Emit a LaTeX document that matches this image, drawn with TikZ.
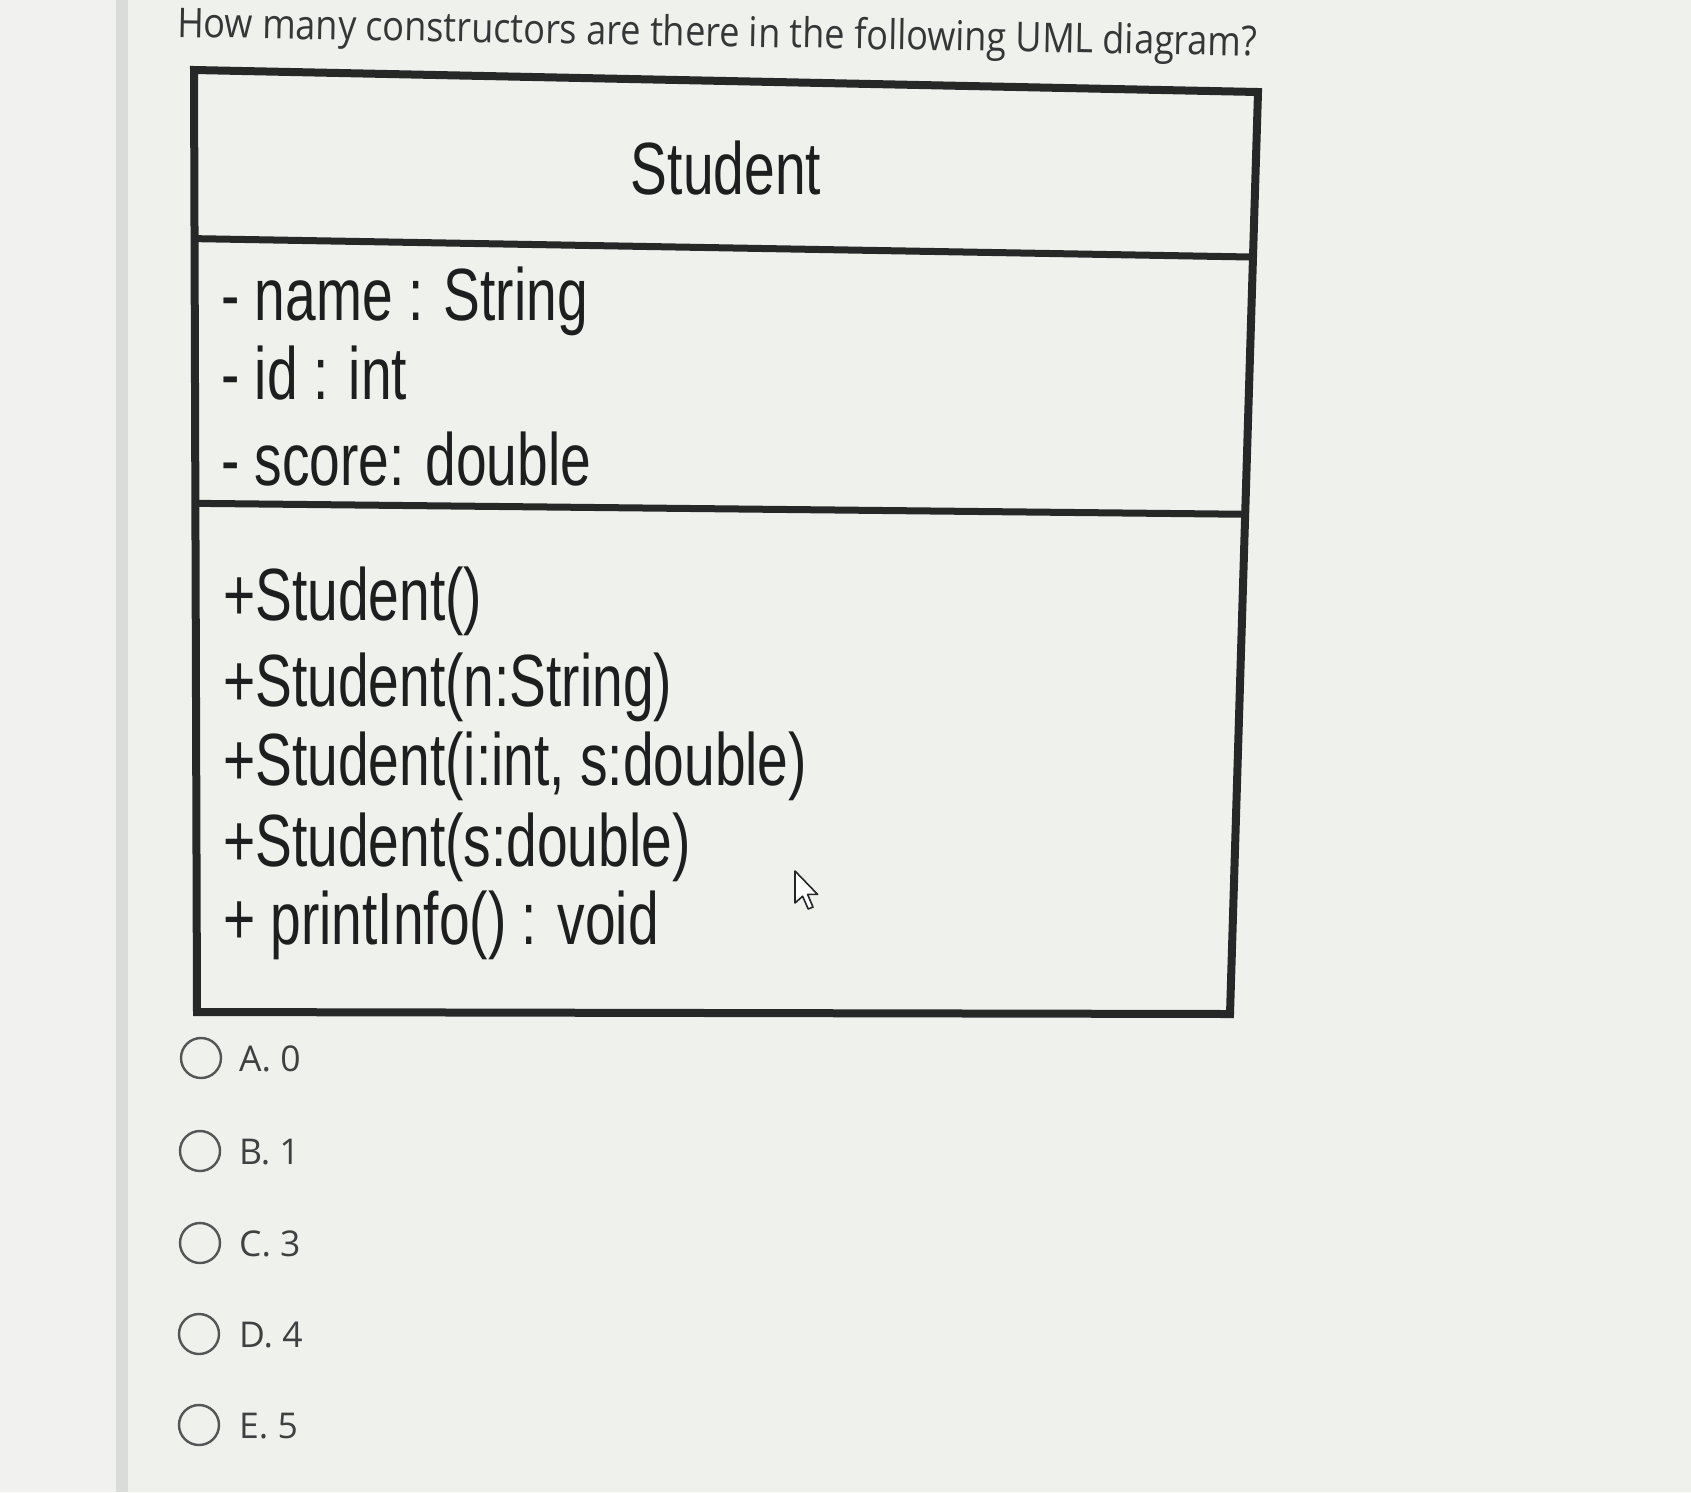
\documentclass[tikz,border=0pt]{standalone}
\usepackage{fontspec}
\usetikzlibrary{calc}
\newfontfamily\umlfont[FakeStretch=0.745]{Liberation Sans}
\newfontfamily\titlefont[FakeStretch=0.88]{Open Sans}
\newfontfamily\optfont{Open Sans}
\definecolor{bg}{HTML}{EEF1EC}
\definecolor{leftbg}{HTML}{F1F1EF}
\definecolor{stripc}{HTML}{D9DCD8}
\definecolor{umlink}{HTML}{1E1E1E}
\definecolor{boxc}{HTML}{262828}
\definecolor{titleink}{HTML}{363636}
\definecolor{optink}{HTML}{404040}
\definecolor{optgray}{HTML}{555555}
\begin{document}
\begin{tikzpicture}[x=1pt,y=-1pt,
  umltext/.style={anchor=base west, inner sep=0, text=umlink,
    font=\umlfont\fontsize{74}{74}\selectfont},
  radiobtn/.style={draw=optgray, line width=2.4pt, circle, minimum size=40pt, inner sep=0},
  optlabel/.style={anchor=base west, inner sep=0, text=optink,
    font=\optfont\fontsize{35.5}{35.5}\selectfont},
  boxline/.style={draw=boxc, line width=8pt, line join=miter},
  divline/.style={draw=boxc, line width=7pt}
]
% background
\fill[bg] (0,0) rectangle (1691,1492);
\fill[leftbg] (0,0) rectangle (116,1492);
\fill[stripc] (116,0) rectangle (128,1492);
\useasboundingbox (0,0) rectangle (1691,1492);

% title
\node[anchor=base west, inner sep=0, text=titleink, rotate=-1,
  font=\titlefont\fontsize{41}{41}\selectfont] (title) at (177,37)
  {How many constructors are there in the following UML diagram?};

% UML class box
\coordinate (tl) at (194,70);
\coordinate (tr) at (1258,92);
\coordinate (br) at (1230,1014);
\coordinate (bl) at (197,1012);
\draw[boxline] (tl) -- (tr) -- (br) -- (bl) -- cycle;
\coordinate (d1l) at ($(tl)!0.179!(bl)$);
\coordinate (d1r) at ($(tr)!0.179!(br)$);
\coordinate (d2l) at ($(tl)!0.46!(bl)$);
\coordinate (d2r) at ($(tr)!0.458!(br)$);
\draw[divline] (d1l) -- (d1r);
\draw[divline] (d2l) -- (d2r);

\node[umltext, anchor=base] (cname) at (726,194) {Student};

\node[umltext] (a1) at (221,320) {- name : String};
\node[umltext] (a2) at (221,399) {- id : int};
\node[umltext] (a3) at (221,485) {- score: double};

\node[umltext] (m1) at (223,620) {+Student()};
\node[umltext] (m2) at (223,706) {+Student(n:String)};
\node[umltext] (m3) at (223,785) {+Student(i:int, s:double)};
\node[umltext] (m4) at (223,866) {+Student(s:double)};
\node[umltext] (m5) at (223,944) {+ printInfo() : void};

% mouse cursor
\coordinate (tip) at (795,871);
\draw[draw=black!85, fill=white, line width=1.6pt, line join=round, shift={(tip)}, scale=2]
  (0,0) -- (0,16) -- (3.8,12.6) -- (6.6,19) -- (9,18) -- (6.3,11.7) -- (11.3,11.7) -- cycle;

% answer options
\node[radiobtn] (rA) at (201,1058) {};
\node[radiobtn] (rB) at (200,1151) {};
\node[radiobtn] (rC) at (200,1243) {};
\node[radiobtn] (rD) at (199,1334) {};
\node[radiobtn] (rE) at (199,1425) {};
\node[optlabel] (lA) at (239,1071) {A. 0};
\node[optlabel] (lB) at (239,1164) {B. 1};
\node[optlabel] (lC) at (239,1256) {C. 3};
\node[optlabel] (lD) at (239,1347) {D. 4};
\node[optlabel] (lE) at (239,1438) {E. 5};
\end{tikzpicture}
\end{document}
